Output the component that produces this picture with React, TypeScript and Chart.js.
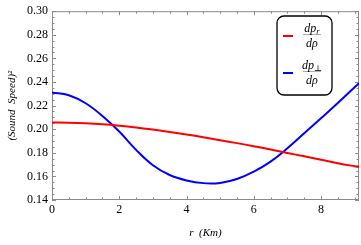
import React, { useEffect, useRef } from "react";
import { Chart, registerables } from "chart.js";
Chart.register(...registerables);

const rValues = [0, 0.5, 1, 1.5, 2, 2.5, 3, 3.5, 4, 4.5, 5, 5.5, 6, 6.5, 7, 7.5, 8, 8.5, 9, 9.13];
const radialSpeed = [0.2057, 0.2055, 0.205, 0.2042, 0.203, 0.2015, 0.1997, 0.1977, 0.1955, 0.1932, 0.1907, 0.1882, 0.1856, 0.1828, 0.1799, 0.177, 0.1741, 0.1712, 0.1686, 0.168];
const tangentialSpeed = [0.2312, 0.2288, 0.222, 0.2112, 0.198, 0.1825, 0.1695, 0.1612, 0.1566, 0.1543, 0.1545, 0.1578, 0.164, 0.1725, 0.1838, 0.1965, 0.2093, 0.2222, 0.2355, 0.239];
const xTickValues = [0, 2, 4, 6, 8];
const yTickValues = [0.14, 0.16, 0.18, 0.2, 0.22, 0.24, 0.26, 0.28, 0.3];
const xMin = 0;
const xMax = 9.13;
const yMin = 0.14;
const yMax = 0.3;

const SERIF = '"Liberation Serif", "DejaVu Serif", serif';

const framePlugin = {
  id: "frameTicks",
  beforeDatasetsDraw(chart: any) {
    const { ctx, chartArea: a, scales } = chart;
    const x = scales.x;
    const y = scales.y;
    ctx.save();
    ctx.strokeStyle = "#8a8a8a";
    ctx.lineWidth = 1;
    ctx.strokeRect(a.left + 0.5, a.top + 0.5, a.right - a.left - 1, a.bottom - a.top - 1);
    ctx.beginPath();
    for (let i = 0; ; i++) {
      const v = xMin + i * 0.5;
      if (v > xMax + 1e-9) break;
      const px = Math.round(x.getPixelForValue(v)) + 0.5;
      const len = i % 4 === 0 ? 4 : 2.5;
      ctx.moveTo(px, a.bottom);
      ctx.lineTo(px, a.bottom - len);
      ctx.moveTo(px, a.top);
      ctx.lineTo(px, a.top + len);
    }
    for (let i = 0; i <= 32; i++) {
      const v = yMin + i * 0.005;
      const py = Math.round(y.getPixelForValue(v)) + 0.5;
      const len = i % 4 === 0 ? 4 : 2.5;
      ctx.moveTo(a.left, py);
      ctx.lineTo(a.left + len, py);
      ctx.moveTo(a.right, py);
      ctx.lineTo(a.right - len, py);
    }
    ctx.stroke();
    ctx.restore();
  },
  afterDraw(chart: any) {
    const { ctx, chartArea: a } = chart;
    ctx.save();
    ctx.fillStyle = "#000";
    ctx.font = `italic 11px ${SERIF}`;
    ctx.textAlign = "center";
    ctx.textBaseline = "middle";
    ctx.fillText("r  (Km)", (a.left + a.right) / 2, 233);
    ctx.save();
    ctx.translate(12, (a.top + a.bottom) / 2);
    ctx.rotate(-Math.PI / 2);
    ctx.fillText("(Sound  Speed)²", 0, 0);
    ctx.restore();

    const bx = 277, by = 16, bw = 55, bh = 79, r = 7;
    ctx.beginPath();
    ctx.moveTo(bx + r, by);
    ctx.arcTo(bx + bw, by, bx + bw, by + bh, r);
    ctx.arcTo(bx + bw, by + bh, bx, by + bh, r);
    ctx.arcTo(bx, by + bh, bx, by, r);
    ctx.arcTo(bx, by, bx + bw, by, r);
    ctx.closePath();
    ctx.fillStyle = "#fff";
    ctx.fill();
    ctx.strokeStyle = "#000";
    ctx.lineWidth = 1.3;
    ctx.stroke();

    const entries = [
      { color: chart.data.datasets[0].borderColor, sub: "r", cy: 36 },
      { color: chart.data.datasets[1].borderColor, sub: "⊥", cy: 73 },
    ];
    for (const e of entries) {
      ctx.strokeStyle = e.color;
      ctx.lineWidth = 2;
      ctx.beginPath();
      ctx.moveTo(283, e.cy);
      ctx.lineTo(293, e.cy);
      ctx.stroke();
      ctx.strokeStyle = "#9a9a9a";
      ctx.lineWidth = 0.8;
      ctx.beginPath();
      ctx.moveTo(303, e.cy - 1.5);
      ctx.lineTo(321, e.cy - 1.5);
      ctx.stroke();
      ctx.fillStyle = "#000";
      ctx.textBaseline = "alphabetic";
      ctx.textAlign = "left";
      ctx.font = `italic 12px ${SERIF}`;
      const num = "dp";
      const wNum = ctx.measureText(num).width;
      ctx.font = `italic 8.5px ${SERIF}`;
      const wSub = ctx.measureText(e.sub).width;
      const cx = 312;
      const startX = cx - (wNum + wSub) / 2;
      ctx.font = `italic 12px ${SERIF}`;
      ctx.fillText(num, startX, e.cy - 4);
      ctx.font = `italic 8.5px ${SERIF}`;
      ctx.fillText(e.sub, startX + wNum, e.cy - 2);
      ctx.font = `italic 12px ${SERIF}`;
      ctx.textAlign = "center";
      ctx.fillText("dρ", cx, e.cy + 11);
    }
    ctx.restore();
  },
};

export default function App() {
  const canvasRef = useRef<HTMLCanvasElement | null>(null);
  useEffect(() => {
    const canvas = canvasRef.current;
    if (!canvas) return;
    const chart = new Chart(canvas, {
      type: "line",
      data: {
        datasets: [
          {
            label: "dp_r/dρ",
            data: rValues.map((r, i) => ({ x: r, y: radialSpeed[i] })),
            borderColor: "#ff0000",
            borderWidth: 2,
            pointRadius: 0,
            tension: 0.4,
            fill: false,
          },
          {
            label: "dp_⊥/dρ",
            data: rValues.map((r, i) => ({ x: r, y: tangentialSpeed[i] })),
            borderColor: "#0000ff",
            borderWidth: 2,
            pointRadius: 0,
            tension: 0.4,
            fill: false,
          },
        ],
      },
      options: {
        animation: false,
        responsive: false,
        devicePixelRatio: 1,
        layout: { padding: { top: 10, right: 2, left: 0, bottom: 0 } },
        plugins: { legend: { display: false }, tooltip: { enabled: false } },
        scales: {
          x: {
            type: "linear",
            min: xMin,
            max: xMax,
            grid: { display: false, drawTicks: false },
            border: { display: false },
            afterBuildTicks: (s: any) => {
              s.ticks = xTickValues.map((v) => ({ value: v }));
            },
            afterFit: (s: any) => {
              s.height = 45;
            },
            ticks: {
              color: "#000",
              padding: 3,
              maxRotation: 0,
              font: { family: SERIF, size: 12 },
              callback: (v: any) => String(v),
            },
          },
          y: {
            type: "linear",
            min: yMin,
            max: yMax,
            grid: { display: false, drawTicks: false },
            border: { display: false },
            afterBuildTicks: (s: any) => {
              s.ticks = yTickValues.map((v) => ({ value: v }));
            },
            afterFit: (s: any) => {
              s.width = 52;
            },
            ticks: {
              color: "#000",
              padding: 4,
              font: { family: SERIF, size: 12 },
              callback: (v: any) => Number(v).toFixed(2),
            },
          },
        },
      },
      plugins: [framePlugin],
    });
    return () => chart.destroy();
  }, []);
  return (
    <div style={{ position: "absolute", left: 0, top: 0, width: 361, height: 245, background: "#fff" }}>
      <canvas ref={canvasRef} width={361} height={245} style={{ display: "block" }} />
    </div>
  );
}
